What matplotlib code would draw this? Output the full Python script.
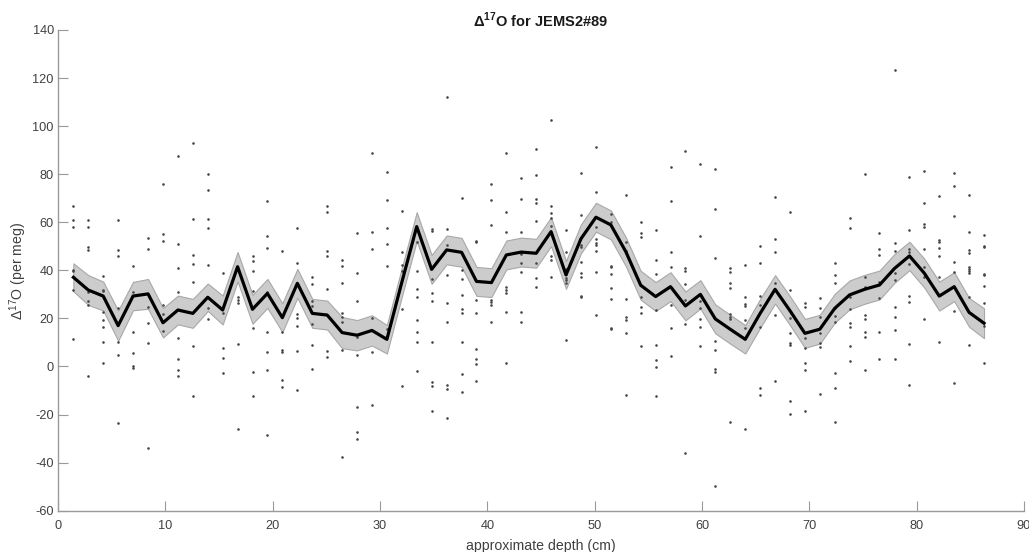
import numpy as np
import matplotlib
matplotlib.use('Agg')
import matplotlib.pyplot as plt

plt.rcParams['font.family'] = ['Liberation Sans', 'DejaVu Sans']
plt.rcParams['mathtext.fontset'] = 'custom'
plt.rcParams['mathtext.rm'] = 'Liberation Sans'
plt.rcParams['mathtext.bf'] = 'Liberation Sans:bold'
plt.rcParams['axes.unicode_minus'] = False

# depth of each sample group (cm)
depth = [1.43, 2.82, 4.21, 5.60, 6.99, 8.39, 9.78, 11.17, 12.56, 13.95,
         15.34, 16.73, 18.12, 19.51, 20.90, 22.30, 23.69, 25.08, 26.47, 27.86,
         29.25, 30.64, 32.03, 33.42, 34.81, 36.21, 37.60, 38.99, 40.38, 41.77,
         43.16, 44.55, 45.94, 47.33, 48.72, 50.12, 51.51, 52.90, 54.29, 55.68,
         57.07, 58.46, 59.85, 61.24, 62.63, 64.03, 65.42, 66.81, 68.20, 69.59,
         70.98, 72.37, 73.76, 75.15, 76.54, 77.94, 79.33, 80.72, 82.11, 83.50,
         84.89, 86.28]

# mean D17O of each group (per meg)
mean_d17o = [37.1, 31.8, 29.3, 17.0, 29.3, 30.2, 18.2, 23.5, 22.1, 28.8,
             23.5, 41.5, 23.8, 30.4, 20.3, 34.6, 22.1, 21.4, 14.1, 13.0,
             15.0, 11.3, 35.0, 58.2, 40.4, 48.5, 47.5, 35.4, 34.9, 46.4,
             47.6, 47.1, 56.1, 38.1, 53.1, 62.1, 58.9, 47.8, 33.8, 29.1,
             33.2, 25.2, 30.0, 19.8, 15.5, 11.3, 22.1, 32.1, 23.2, 13.8,
             15.5, 24.2, 29.8, 32.1, 33.9, 40.8, 46.0, 38.8, 29.3, 33.2,
             22.5, 18.0]

# half width of the grey band
err_d17o = [5.8, 6.2, 6.0, 6.3, 5.9, 6.2, 6.1, 6.0, 6.0, 5.7,
            6.0, 6.1, 6.0, 6.0, 6.0, 6.0, 6.0, 6.0, 6.5, 6.3,
            6.3, 5.9, 6.0, 6.0, 6.0, 6.0, 6.0, 6.0, 6.0, 6.0,
            6.0, 6.0, 6.0, 5.8, 6.0, 6.0, 6.0, 6.0, 6.0, 6.0,
            6.0, 6.0, 5.9, 6.0, 6.0, 5.9, 6.0, 5.9, 6.0, 6.0,
            6.0, 6.0, 6.0, 6.0, 6.0, 6.0, 5.9, 6.0, 6.0, 6.0,
            6.0, 6.2]

# individual measurements at each depth
samples = [
    [66.9, 60.9, 57.9, 40.2, 39.8, 31.8, 11.4],
    [60.9, 58.2, 49.6, 48.5, 30.9, 27.3, 25.6, -4.0],
    [37.8, 31.8, 31.4, 22.5, 19.4, 16.3, 10.3, 1.5],
    [60.9, 48.5, 45.8, 24.2, 10.1, 4.8, -23.6],
    [41.7, 31.1, 14.2, 5.5, 0.2, -0.6],
    [53.3, 48.8, 24.9, 18.0, 9.9, -34.0],
    [75.8, 55.0, 52.2, 25.6, 21.8, 14.9],
    [87.7, 50.8, 41.1, 30.9, 11.7, 3.1, -1.5, -3.8],
    [93.1, 61.4, 46.3, 42.5, 35.3, 8.5, -12.3],
    [79.9, 73.3, 61.2, 57.5, 42.2, 24.2, 19.9],
    [39.0, 22.1, 7.9, 3.4, -2.8],
    [29.1, 27.7, 26.6, 9.4, -26.0],
    [46.1, 44.0, 39.9, 31.6, 16.2, -2.1, -12.1],
    [68.7, 54.4, 49.4, 31.1, 14.5, 6.2, -1.5, -28.5],
    [48.2, 14.5, 6.9, 5.9, -5.6, -8.7],
    [57.6, 42.9, 21.8, 20.2, 16.8, 6.3, -9.8],
    [37.2, 34.3, 27.1, 25.2, 17.6, 8.8, -1.2],
    [66.9, 64.3, 48.2, 45.8, 32.1, 6.3, 4.1],
    [44.3, 41.7, 34.9, 22.1, 20.5, 18.7, 7.0, -37.5],
    [55.4, 38.9, 27.3, 12.1, 4.8, -16.7, -27.1, -30.1],
    [88.8, 55.8, 48.8, 20.0, 6.0, -16.2],
    [81.0, 69.3, 57.5, 51.0, 41.7, 15.5],
    [64.7, 47.5, 42.4, 39.9, 24.1, -8.1],
    [51.9, 39.7, 32.4, 28.8, 19.2, 14.2, 10.3, -1.9],
    [57.1, 56.5, 36.4, 30.4, 27.3, 10.0, -6.5, -8.0, -18.7],
    [112.3, 57.1, 50.5, 38.1, 26.6, 18.7, -7.6, -9.5, -21.4],
    [70.0, 40.0, 36.3, 29.8, 24.1, 22.1, 10.0, -3.1, -10.6],
    [52.2, 51.8, 27.7, 22.1, 7.4, 3.0, 1.2, -6.2],
    [75.8, 69.1, 59.0, 27.7, 26.7, 25.6, 18.5],
    [88.7, 64.3, 56.1, 33.2, 31.8, 30.4, 22.5, 1.6],
    [78.6, 69.6, 55.9, 47.4, 46.7, 42.9, 39.3, 22.8, 18.4],
    [90.4, 79.8, 69.6, 68.2, 60.5, 43.1, 36.7, 33.2],
    [102.5, 66.8, 63.7, 61.8, 58.6, 46.0, 44.3, 37.4],
    [56.7, 47.5, 40.4, 38.3, 37.0, 36.0, 34.9, 11.0],
    [80.4, 62.9, 50.6, 49.7, 43.6, 38.8, 37.4, 29.5, 28.8],
    [91.3, 72.5, 58.2, 52.9, 51.5, 50.6, 48.2, 39.2, 21.4],
    [63.3, 60.1, 41.9, 41.3, 38.3, 32.5, 27.9, 16.2, 15.7],
    [71.4, 51.9, 48.2, 27.9, 20.7, 19.4, 14.1, -12.0],
    [60.0, 55.5, 54.0, 28.8, 24.9, 22.1, 8.7],
    [56.7, 44.3, 38.3, 23.5, 9.0, 2.7, -0.2, -12.1],
    [83.2, 69.0, 47.8, 41.5, 25.6, 15.9, 4.5],
    [89.8, 41.1, 39.7, 34.3, 27.7, 17.7, -35.8],
    [84.4, 54.4, 27.3, 24.5, 19.6, 16.3, 8.5],
    [82.2, 65.4, 45.1, 10.6, 6.9, -1.0, -2.4, -49.7],
    [40.8, 39.4, 34.7, 32.5, 21.8, 20.7, 19.8, -23.2],
    [42.4, 28.8, 26.0, 25.2, 19.4, 16.2, -26.1],
    [50.3, 42.9, 29.3, 25.6, 16.6, -8.8, -11.9],
    [70.5, 52.9, 47.5, 34.6, 21.4, -5.9],
    [64.3, 31.8, 20.0, 13.8, 9.6, 8.9, -14.2, -19.8],
    [26.3, 24.6, 12.0, 7.6, 1.3, -1.5, -18.4],
    [28.4, 24.2, 20.7, 14.1, 9.9, 8.0, -11.4],
    [42.9, 38.1, 34.7, 24.2, 21.0, 18.4, -2.6, -8.8, -23.1],
    [61.9, 57.8, 28.8, 24.1, 18.2, 16.6, 8.7, 2.4],
    [80.2, 37.1, 33.2, 21.4, 19.6, 14.5, 12.1, -1.5],
    [55.4, 48.9, 46.4, 35.0, 28.4, 14.2, 3.1],
    [123.4, 51.5, 48.2, 38.8, 36.0, 24.8, 20.6, 15.0, 3.1],
    [78.7, 56.7, 48.9, 47.6, 42.7, 29.3, 27.0, 9.4, -7.8],
    [81.5, 67.9, 59.4, 58.0, 48.9, 41.3, 37.1, 19.9],
    [70.9, 52.5, 51.9, 49.2, 46.1, 37.4, 10.1],
    [80.6, 75.2, 62.5, 43.3, 39.4, 23.2, -7.0],
    [71.5, 55.8, 48.5, 47.1, 41.5, 40.6, 39.7, 39.0, 29.1, 8.9],
    [54.7, 50.3, 49.9, 38.5, 38.1, 33.5, 26.4, 17.0, 1.6],
]

# flatten samples for scatter
pts_x = [d for d, grp in zip(depth, samples) for _ in grp]
pts_y = [v for grp in samples for v in grp]

mean_arr = np.array(mean_d17o)
err_arr = np.array(err_d17o)

fig = plt.figure(figsize=(10.29, 5.52), dpi=100)
ax = fig.add_axes([0.0564, 0.0748, 0.9387, 0.8709])

ax.fill_between(depth, mean_arr - err_arr, mean_arr + err_arr,
                facecolor='#cccccc', edgecolor='#a8a8a8', linewidth=0.8, zorder=1)
ax.scatter(pts_x, pts_y, s=3.5, color='#454545', linewidths=0, zorder=2)
ax.plot(depth, mean_arr, color='black', linewidth=2.3, zorder=3)

ax.set_xlim(0, 90)
ax.set_ylim(-60, 140)
ax.set_xticks(range(0, 91, 10))
ax.set_yticks(range(-60, 141, 20))

ax.spines['top'].set_visible(False)
ax.spines['right'].set_visible(False)
for s in ['left', 'bottom']:
    ax.spines[s].set_color('#9a9a9a')
    ax.spines[s].set_linewidth(1.0)
ax.tick_params(direction='in', length=7, width=0.8, color='#9a9a9a',
               labelcolor='#404040', labelsize=9.2, pad=3)
ax.tick_params(axis='x', pad=7)

ax.set_title('Δ$^{\\mathbf{17}}$O for JEMS2#89', fontsize=10.5, fontweight='bold',
             color='#1a1a1a', pad=2.5)
ax.set_xlabel('approximate depth (cm)', fontsize=10.2, color='#404040', labelpad=4.5)
ax.set_ylabel('Δ$^{17}$O (per meg)', fontsize=10.2, color='#404040', labelpad=2.5)

fig.savefig('out.png', dpi=100)
